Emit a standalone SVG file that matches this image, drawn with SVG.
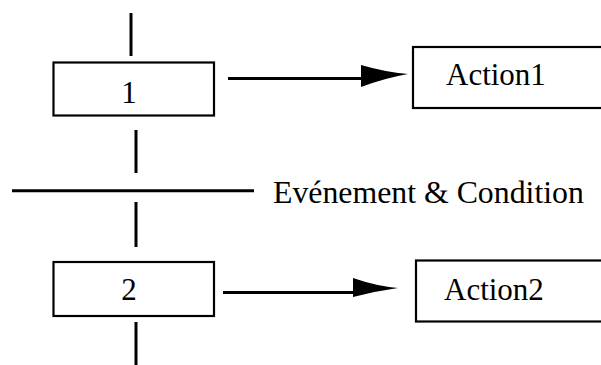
<svg xmlns="http://www.w3.org/2000/svg" width="601" height="365" viewBox="0 0 601 365">
<style>
.box{fill:#fff;stroke:#000;stroke-width:2.2}
.ln{stroke:#000;stroke-width:3;fill:none}
.t{font-family:"Liberation Serif","Times New Roman",serif;font-size:31px;fill:#000}
.head{fill:#000;stroke:none}
</style>
<rect width="601" height="365" fill="#fff"/>
<g id="connectors">
<line class="ln" x1="131" y1="13" x2="131" y2="56"/>
<line class="ln" x1="136" y1="130" x2="136" y2="173"/>
<line class="ln" x1="12" y1="190.7" x2="254" y2="190.7"/>
<line class="ln" x1="136" y1="202" x2="136" y2="247"/>
<line class="ln" x1="136" y1="322" x2="136" y2="365"/>
<line class="ln" x1="228" y1="78.5" x2="364" y2="78.5"/>
<path class="head" d="M361,65 Q385,72 408,74 Q385,78 361,87 Z"/>
<line class="ln" x1="223" y1="292.5" x2="356" y2="292.5"/>
<path class="head" d="M353,278 Q376,286 398,288 Q376,291 353,297 Z"/>
</g>
<g id="step1">
<rect class="box" x="53.5" y="62.5" width="160.5" height="53"/>
<text class="t" x="129" y="103" text-anchor="middle">1</text>
</g>
<g id="action1">
<rect class="box" x="413" y="47" width="220" height="61"/>
<text class="t" x="446" y="85">Action1</text>
</g>
<g id="transition">
<text class="t" x="273" y="203" style="font-size:31.8px">Evénement &amp; Condition</text>
</g>
<g id="step2">
<rect class="box" x="53.5" y="262" width="160.5" height="54"/>
<text class="t" x="129" y="300" text-anchor="middle">2</text>
</g>
<g id="action2">
<rect class="box" x="416" y="260.5" width="220" height="61"/>
<text class="t" x="444" y="300">Action2</text>
</g>
</svg>
